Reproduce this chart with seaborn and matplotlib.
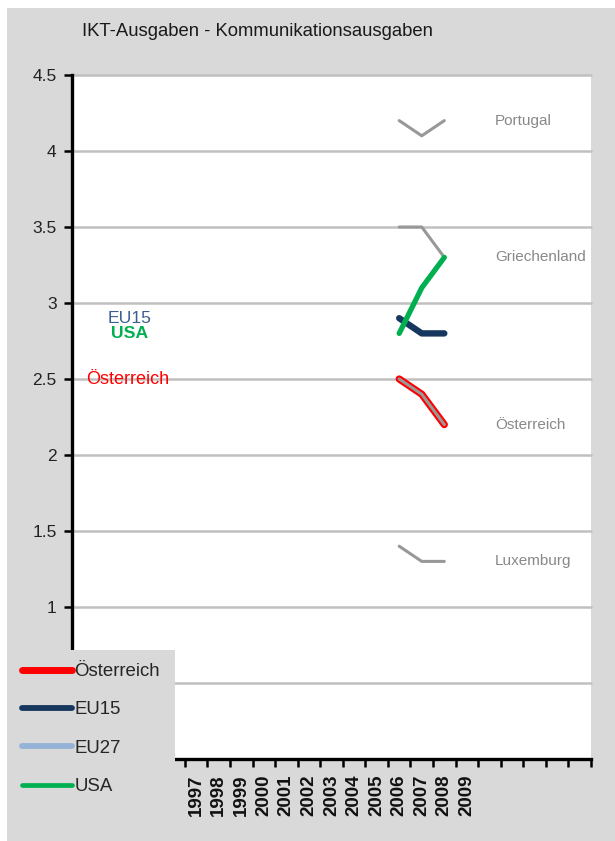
import numpy as np
import pandas as pd
import seaborn as sns
import matplotlib
matplotlib.use("Agg")
import matplotlib.pyplot as plt
from matplotlib.patches import Rectangle
from matplotlib.lines import Line2D

# --- data -------------------------------------------------------------
years = [2006, 2007, 2008]
oesterreich = [2.5, 2.4, 2.2]
eu15 = [2.9, 2.8, 2.8]
usa = [2.8, 3.1, 3.3]
portugal = [4.2, 4.1, 4.2]
griechenland = [3.5, 3.5, 3.3]
luxemburg = [1.4, 1.3, 1.3]

year_labels = list(range(1997, 2010))
y_ticks = [0, 0.5, 1, 1.5, 2, 2.5, 3, 3.5, 4, 4.5]
legend_names = ["Österreich", "EU15", "EU27", "USA"]

title = "IKT-Ausgaben - Kommunikationsausgaben"

# --- style ------------------------------------------------------------
sns.set_theme(style="white")
plt.rcParams["font.family"] = ["Liberation Sans", "DejaVu Sans"]

RED = "#ff0000"
NAVY = "#17375e"
LIGHTBLUE = "#95b3d7"
GREEN = "#00b050"
GREY = "#989898"
GREY_TXT = "#888888"
BG = "#d9d9d9"

W, H = 615, 841
fig = plt.figure(figsize=(W / 100, H / 100), dpi=100)
fig.patch.set_facecolor("white")
fig.add_artist(Rectangle((7 / W, 0), 1 - 7 / W, 1 - 8 / H, transform=fig.transFigure,
                         facecolor=BG, edgecolor="none", zorder=-10))

ax = fig.add_axes([72 / W, 1 - 759 / H, (591 - 72) / W, (759 - 75) / H])
ax.set_facecolor("white")

# --- series -----------------------------------------------------------
round_kw = dict(solid_capstyle="round", solid_joinstyle="round")
sns.lineplot(x=years, y=oesterreich, color=RED, lw=5.2, ax=ax, zorder=3, **round_kw)
for vals in (portugal, griechenland, oesterreich, luxemburg):
    sns.lineplot(x=years, y=vals, color=GREY, lw=2.2, ax=ax, zorder=4, **round_kw)
sns.lineplot(x=years, y=eu15, color=NAVY, lw=4.6, ax=ax, zorder=5, **round_kw)
sns.lineplot(x=years, y=usa, color=GREEN, lw=3.8, ax=ax, zorder=6, **round_kw)

# country labels on the right
for name, vals in (("Portugal", portugal), ("Griechenland", griechenland),
                   ("Österreich", oesterreich), ("Luxemburg", luxemburg)):
    ax.text(2010.25, vals[-1], name, color=GREY_TXT, fontsize=11,
            ha="left", va="center")

# series labels on the left
ax.text(1994.05, eu15[0], "EU15", color="#3b5e91", fontsize=12.6,
        ha="center", va="center")
ax.text(1994.05, usa[0], "USA", color=GREEN, fontsize=12.6, fontweight="bold",
        ha="center", va="center")
ax.text(1993.95, oesterreich[0], "Österreich", color=RED, fontsize=13,
        ha="center", va="center")

# --- axes -------------------------------------------------------------
ax.set_ylim(0, 4.5)
ax.set_yticks(y_ticks)
ax.set_yticklabels([f"{v:g}" for v in y_ticks])
ax.yaxis.grid(True, color="#c0c0c0", lw=1.8)
ax.set_axisbelow(True)
for gl in ax.get_ygridlines():
    gl.set_clip_on(False)

ax.set_xlim(1991.5, 2014.5)
ax.set_xticks(year_labels)
ax.set_xticklabels([str(y) for y in year_labels], rotation=90, fontweight="bold")
ax.set_xticks(np.arange(1991.5, 2015, 1.0), minor=True)
ax.tick_params(axis="x", which="major", length=0, pad=11, labelsize=13.5,
               labelcolor="#111111")
ax.tick_params(axis="x", which="minor", length=6, width=1.8, color="black",
               direction="out", bottom=True)
ax.tick_params(axis="y", length=6, width=1.8, color="black", direction="out",
               left=True, pad=5, labelsize=12.5, labelcolor="#222222")

for side in ("top", "right"):
    ax.spines[side].set_visible(False)
for side in ("left", "bottom"):
    ax.spines[side].set_visible(True)
    ax.spines[side].set_color("black")
    ax.spines[side].set_linewidth(2.4)
ax.set_xlabel("")
ax.set_ylabel("")

# --- title ------------------------------------------------------------
fig.text(82 / W, 1 - 32 / H, title, fontsize=13.3, color="#1a1a1a",
         ha="left", va="center")

# --- legend -----------------------------------------------------------
fig.add_artist(Rectangle((7 / W, 0), (175 - 7) / W, 1 - 650 / H,
                         transform=fig.transFigure, facecolor=BG,
                         edgecolor="none", zorder=3))
handles = [
    Line2D([], [], color=RED, lw=5, solid_capstyle="round"),
    Line2D([], [], color=NAVY, lw=4.2, solid_capstyle="round"),
    Line2D([], [], color=LIGHTBLUE, lw=4.2, solid_capstyle="round"),
    Line2D([], [], color=GREEN, lw=3.4, solid_capstyle="round"),
]
leg = fig.legend(handles, legend_names, loc="upper left",
                 bbox_to_anchor=(22 / W, 1 - 663 / H), frameon=False,
                 handlelength=2.7, handletextpad=0.12, labelspacing=1.15,
                 borderpad=0, borderaxespad=0, fontsize=13.4)
leg.set_zorder(5)

fig.savefig("out.png", dpi=100)
